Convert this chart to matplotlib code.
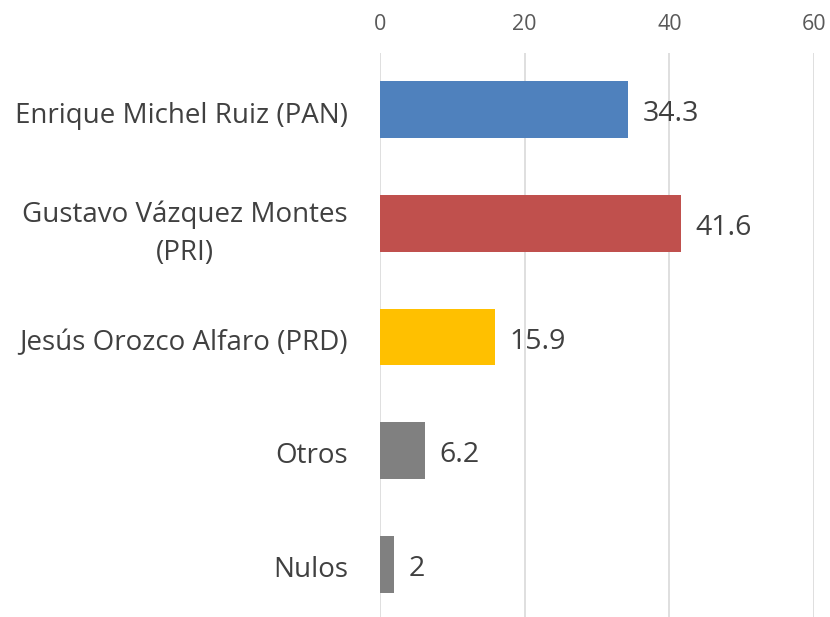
import matplotlib
matplotlib.use("Agg")
import matplotlib.pyplot as plt

categories = ["Enrique Michel Ruiz (PAN)", "Gustavo Vázquez Montes\n(PRI)",
              "Jesús Orozco Alfaro (PRD)", "Otros", "Nulos"]
values = [34.3, 41.6, 15.9, 6.2, 2]
colors = ["#4F81BD", "#C0504D", "#FFC000", "#808080", "#808080"]
ticks = [0, 20, 40, 60]

plt.rcParams['font.family'] = ['Open Sans', 'DejaVu Sans']

fig = plt.figure(figsize=(8.3, 6.17), dpi=100)
ax = fig.add_axes([380 / 830, 0, (814 - 380) / 830, (617 - 53) / 617])

pos = list(range(len(categories)))
ax.barh(pos, values, height=0.5, color=colors, zorder=3)
ax.set_xlim(0, 60)
ax.set_ylim(4.465, -0.5)

for p, v in zip(pos, values):
    ax.text(v + 2.0, p + 0.04, f"{v:g}", va="center", ha="left",
            fontsize=20.5, color="#404040")

ax.set_yticks([p + 0.02 for p in pos])
ax.set_yticklabels(categories, fontsize=20, color="#404040",
                   ha="right", multialignment="center", linespacing=1.45)
ax.set_xticks(ticks)
ax.xaxis.tick_top()
ax.tick_params(axis="x", length=0, pad=13, labelsize=15.5, labelcolor="#595959")
ax.tick_params(axis="y", length=0, pad=23)
ax.grid(axis="x", color="#D9D9D9", linewidth=1.2, zorder=0)
for s in ax.spines.values():
    s.set_visible(False)

fig.savefig("out.png", dpi=100)
